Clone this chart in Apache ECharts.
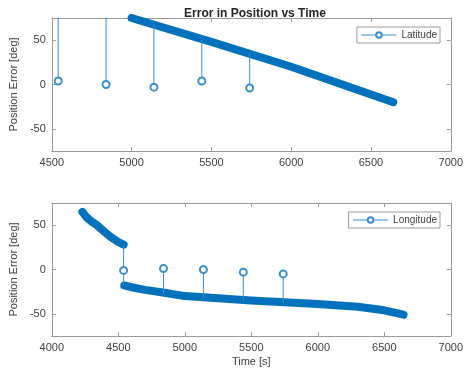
<!DOCTYPE html>
<html>
<head>
<meta charset="utf-8">
<script src="https://cdn.jsdelivr.net/npm/echarts@6/dist/echarts.min.js"></script>
<style>
html,body{margin:0;padding:0;background:#fff;}
#c{width:466px;height:377px;}
</style>
</head>
<body>
<div id="c"></div>
<script>
// ---- data ----
var titleText = 'Error in Position vs Time';
var yName = 'Position Error [deg]';
var xName = 'Time [s]';
var yTicks = [-50, 0, 50];

// Latitude (top)
var latBandTime = [5000, 5500, 6000, 6640];
var latBandErr  = [75, 48, 20, -20];
var latStemTime = [4540, 4840, 5140, 5440, 5740];
var latStemHigh = [101, 84, 67, 51, 35];
var latStemLow  = [4, 0, -3, 4, -4];

// Longitude (bottom)
var lonBand1Time = [4230, 4260, 4300, 4340, 4400, 4440, 4500, 4540];
var lonBand1Err  = [65, 59, 54, 50, 42, 37, 31, 28];
var lonBand2Time = [4545, 4600, 4700, 4835, 4845, 5000, 5500, 6000, 6300, 6500, 6645];
var lonBand2Err  = [-18, -20, -23, -26, -28, -30, -35, -39, -42, -46, -51];
var lonStemTime = [4540, 4840, 5140, 5440, 5740];
var lonStemHigh = [28, -27, -32, -35, -38];
var lonStemLow  = [-1, 1, 0, -3, -5];
var lonStemEnd  = [-18, null, null, null, null];

var BLUE = '#0072BD';
var AXC = '#9a9a9a';
var TXT = '#404040';
var FONT = 'Liberation Sans';

function zip(a, b) { return a.map(function (v, i) { return [v, b[i]]; }); }

function stemData(times, highs, lows, ends) {
  var d = [];
  times.forEach(function (t, i) {
    d.push({ value: [t, highs[i]], symbol: 'none' });
    d.push({ value: [t, lows[i]] });
    if (ends && ends[i] != null) d.push({ value: [t, ends[i]], symbol: 'none' });
    d.push({ value: [t, '-'], symbol: 'none' });
  });
  return d;
}

function plain(v) { return String(v); }

function xAxes(gi, min, showName) {
  var base = {
    type: 'value', gridIndex: gi, min: min, max: 7000, interval: 500,
    splitLine: { show: false },
    axisLine: { show: true, onZero: false, lineStyle: { color: AXC, width: 1 } },
    axisTick: { show: true, inside: true, length: 4, lineStyle: { color: AXC } }
  };
  var bottom = Object.assign({}, base, {
    position: 'bottom',
    axisLabel: { show: true, color: TXT, fontSize: 11, fontFamily: FONT, margin: 6,
      showMinLabel: true, showMaxLabel: true, formatter: plain },
    name: showName ? xName : '', nameLocation: 'middle', nameGap: 20,
    nameTextStyle: { color: TXT, fontSize: 11, fontFamily: FONT }
  });
  var top = Object.assign({}, base, { position: 'top', axisLabel: { show: false } });
  return [bottom, top];
}

function yAxes(gi) {
  var base = {
    type: 'value', gridIndex: gi, min: -75, max: 75,
    splitLine: { show: false },
    axisLine: { show: true, onZero: false, lineStyle: { color: AXC, width: 1 } },
    axisTick: { show: true, inside: true, length: 4, customValues: yTicks, lineStyle: { color: AXC } }
  };
  var left = Object.assign({}, base, {
    position: 'left',
    axisLabel: { show: true, color: TXT, fontSize: 11, fontFamily: FONT, margin: 6,
      customValues: yTicks, formatter: plain },
    name: yName, nameLocation: 'middle', nameGap: 25,
    nameTextStyle: { color: TXT, fontSize: 11, fontFamily: FONT }
  });
  var right = Object.assign({}, base, { position: 'right', axisLabel: { show: false } });
  return [left, right];
}

var xa = xAxes(0, 4500, false).concat(xAxes(1, 4000, true));
var ya = yAxes(0).concat(yAxes(1));

function band(name, data, xi, yi) {
  return {
    type: 'line', name: name, xAxisIndex: xi, yAxisIndex: yi, data: data,
    symbol: 'none', clip: true, silent: true, z: 3,
    lineStyle: { color: BLUE, width: 8, cap: 'round', join: 'round' },
    animation: false
  };
}
function stem(name, data, xi, yi) {
  return {
    type: 'line', name: name, xAxisIndex: xi, yAxisIndex: yi, data: data,
    symbol: 'emptyCircle', symbolSize: 7, clip: true, connectNulls: false, z: 4,
    lineStyle: { color: '#3a8fcc', width: 1 },
    itemStyle: { color: '#3a8fcc', borderColor: '#3a8fcc', borderWidth: 1 },
    animation: false
  };
}

function legendCfg(name, top) {
  return {
    data: [name], right: 26, top: top, orient: 'horizontal',
    backgroundColor: '#fff', borderColor: AXC, borderWidth: 1, borderRadius: 0,
    padding: [3, 3, 3, 4], itemWidth: 35, itemHeight: 7, itemGap: 4,
    lineStyle: { width: 1 },
    textStyle: { fontSize: 10, color: TXT, fontFamily: FONT }
  };
}

var option = {
  backgroundColor: '#fff',
  animation: false,
  title: {
    text: titleText, left: 250, top: 3, textAlign: 'center',
    textStyle: { fontSize: 12, fontWeight: 'bold', color: '#262626', fontFamily: FONT }
  },
  grid: [
    { left: 48, right: 15, top: 18, height: 133, containLabel: false },
    { left: 48, right: 15, top: 203, height: 133, containLabel: false }
  ],
  xAxis: xa,
  yAxis: ya,
  legend: [legendCfg('Latitude', 27), legendCfg('Longitude', 212)],
  series: [
    band('latBand', zip(latBandTime, latBandErr), 0, 0),
    stem('Latitude', stemData(latStemTime, latStemHigh, latStemLow), 0, 0),
    band('lonBand1', zip(lonBand1Time, lonBand1Err), 2, 2),
    band('lonBand2', zip(lonBand2Time, lonBand2Err), 2, 2),
    stem('Longitude', stemData(lonStemTime, lonStemHigh, lonStemLow, lonStemEnd), 2, 2)
  ]
};

var chart = echarts.init(document.getElementById('c'), null, { renderer: 'canvas' });
chart.setOption(option);
</script>
</body>
</html>
